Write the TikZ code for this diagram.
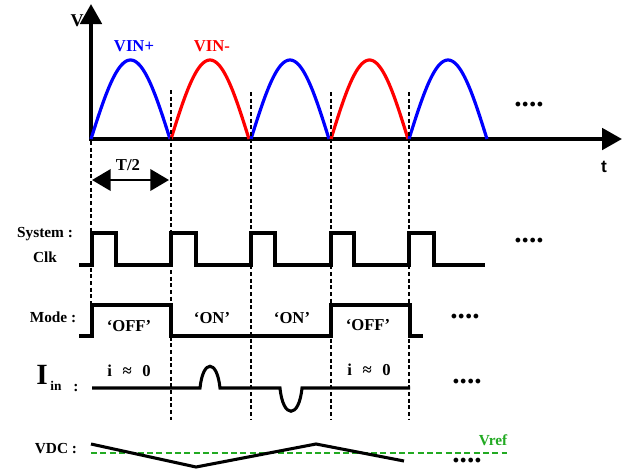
\documentclass[tikz,border=0pt]{standalone}
\usepackage{fontspec}
\setmainfont{Liberation Serif}
\newfontfamily\axisfont{Liberation Sans}
\usetikzlibrary{arrows.meta}

\definecolor{vrefgreen}{RGB}{34,170,34}

\begin{document}
\begin{tikzpicture}[x=0.75pt, y=-0.75pt,
  axis/.style={line width=3pt, -{Triangle[length=15pt, width=16pt]}},
  arch/.style={line width=2.4pt},
  sig/.style={line width=2.3pt, line join=miter},
  guide/.style={line width=1.3pt, dash pattern=on 3pt off 2pt},
  lbl/.style={font=\bfseries\fontsize{11.5}{12}\selectfont, inner sep=0pt},
  mid/.style={font=\bfseries\fontsize{12.5}{13}\selectfont, inner sep=0pt},
  dots/.style={font=\bfseries\fontsize{22}{22}\selectfont, inner sep=0pt}]
  \useasboundingbox (0,0) rectangle (629,469);

  \coordinate (o) at (91,139);
  \coordinate (vtip) at (91,4);
  \coordinate (ttip) at (622,139);
  \draw[axis] (o) -- (vtip);
  \draw[axis] ([xshift=-1.5pt]o) -- (ttip);
  \node[font=\bfseries\fontsize{13.5}{14}\selectfont, inner sep=0pt] (vlab) at (77,21) {V};
  \node[font=\axisfont\bfseries\fontsize{13}{13}\selectfont, inner sep=0pt] (tlab) at (604,167) {t};

  \foreach \s/\w/\col in {91/79/blue, 171/78/red, 251/78/blue, 331/77/red, 409/78/blue}
    \draw[arch, \col] plot[domain=0:180, samples=60] ({\s+\w*\x/180}, {139-79*sin(\x)});
  \node[mid, blue] (vinp) at (134,46) {VIN+};
  \node[mid, red] (vinm) at (212,46) {VIN-};
  \node[dots] (more1) at (529,105) {....};

  \coordinate (hl) at (92,180);
  \coordinate (hr) at (169,180);
  \draw[line width=2pt, {Triangle[length=14pt, width=16pt]}-{Triangle[length=14pt, width=16pt]}] (hl) -- (hr);
  \node[mid] (half) at (128,165) {T/2};

  \foreach \x/\t/\b in {91/141/340, 171/90/420, 251/92/420, 331/92/420, 409/92/420}
    \draw[guide] (\x,\t) -- (\x,\b);

  \node[lbl] (sys) at (45,234) {System :};
  \node[lbl] (clk) at (45,257) {Clk};
  \draw[sig] (79,265) foreach \r/\f in {92/116, 171/196, 251/275, 331/354, 409/434}
    { -- (\r,265) -- (\r,233) -- (\f,233) -- (\f,265) } -- (485,265);
  \node[dots] (more2) at (529,241) {....};

  \node[lbl] (mode) at (53,317) {Mode :};
  \draw[sig] (79,336) -- (92,336) -- (92,305) -- (171,305) -- (171,336) -- (331,336)
    -- (331,305) -- (410,305) -- (410,336) -- (423,336);
  \node[mid] (off1) at (129,326) {`OFF'};
  \node[mid] (on1) at (212,318) {`ON'};
  \node[mid] (on2) at (292,318) {`ON'};
  \node[mid] (off2) at (368,325) {`OFF'};
  \node[dots] (more3) at (465,317) {....};

  \node[font=\bfseries\fontsize{22}{22}\selectfont, inner sep=0pt] (iin) at (42,375) {I};
  \node[font=\bfseries\fontsize{10}{10}\selectfont, inner sep=0pt] (iinsub) at (56,386) {in};
  \node[lbl] (iincol) at (76,388) {:};
  \draw[sig] (92,388) -- (200,388) .. controls (203,359) and (217,359) .. (220,388)
    -- (280,388) .. controls (283,419) and (299,419) .. (302,388) -- (410,388);
  \node[mid] (izero1) at (129,371) {i\hspace{8pt}≈\hspace{8pt}0};
  \node[mid] (izero2) at (369,370) {i\hspace{8pt}≈\hspace{8pt}0};
  \node[dots] (more4) at (467,382) {....};

  \node[lbl] (vdc) at (56,449) {VDC :};
  \draw[vrefgreen, line width=1.5pt, dash pattern=on 4.5pt off 2.5pt] (91,453) -- (507,453);
  \draw[sig] (91,444) -- (196,467) -- (316,444) -- (404,461);
  \node[lbl, vrefgreen] (vref) at (493,440) {Vref};
  \node[dots] (more5) at (467,461) {....};
\end{tikzpicture}
\end{document}
